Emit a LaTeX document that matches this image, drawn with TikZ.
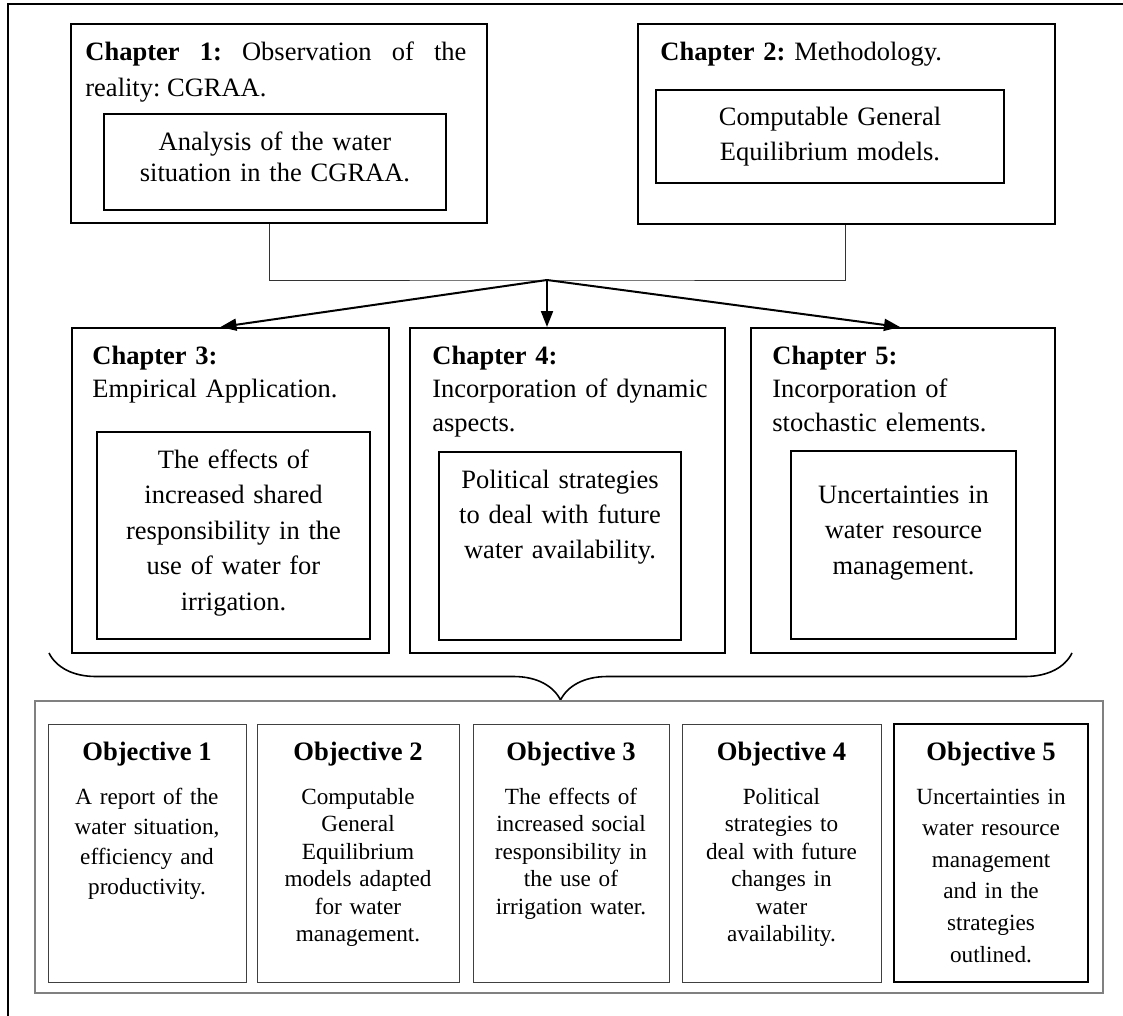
\documentclass[tikz,border=0pt]{standalone}
\usepackage{fontspec}
\setmainfont{Liberation Serif}
\usepackage{tikz}
\usetikzlibrary{arrows.meta, positioning, decorations.pathreplacing}
\frenchspacing

\begin{document}
\begin{tikzpicture}[x=0.5pt, y=-0.5pt,
    frame/.style={line width=1.15pt},
    chapbox/.style={draw, line width=1pt, inner sep=0pt},
    innerbox/.style={draw, line width=1pt, inner sep=0pt},
    chaptext/.style={inner sep=0pt, anchor=base west, text width=150pt, align=left,
      font=\fontsize{13.25}{16.75}\selectfont},
    bodytext/.style={inner sep=0pt, anchor=base, text width=165pt, align=center,
      font=\fontsize{13.25}{#1}\selectfont},
    bodytext/.default=17.75pt,
    objframe/.style={draw=gray, line width=0.6pt},
    objbox/.style={draw=black!75, line width=0.5pt, inner sep=0pt, minimum height=129pt},
    objtitle/.style={inner sep=0pt, anchor=base, font=\fontsize{13.3}{16}\selectfont\bfseries},
    objbody/.style={inner sep=0pt, anchor=base, text width=95pt, align=center,
      font=\fontsize{11.6}{#1}\selectfont},
    objbody/.default=13.75pt,
    link/.style={line width=0.5pt, black!80},
    flow/.style={line width=1pt, -{Triangle[length=8pt, width=6pt]}}]
  \useasboundingbox (0,0) rectangle (1123,1016);
  \clip (0,0) rectangle (1123,1016);
  \draw[frame] (8,4) rectangle (1150,1040);

  % top chapters
  \node[chapbox, minimum width=208pt, minimum height=99.5pt] (ch1) at (279,123.5) {};
  \node[chaptext, text width=190.5pt, align=justify, font=\fontsize{13.25}{18}\selectfont] (ch1t) at (85,61)
    {\textbf{Chapter 1:} Observation of the\linebreak reality: CGRAA.};
  \node[innerbox, minimum width=171pt, minimum height=48pt] (ch1in) at (275,162) {};
  \node[bodytext=15.5pt] (ch1tx) at (275,151) {Analysis of the water\\situation in the CGRAA.};

  \node[chapbox, minimum width=208.5pt, minimum height=100pt] (ch2) at (846.5,124) {};
  \node[chaptext, text width=190pt] (ch2t) at (660,61) {\textbf{Chapter 2:} Methodology.};
  \node[innerbox, minimum width=174pt, minimum height=46.5pt] (ch2in) at (830,136.5) {};
  \node[bodytext=17.5pt] (ch2tx) at (830,126) {Computable General\\Equilibrium models.};

  % middle chapters
  \node[chapbox, minimum width=158.5pt, minimum height=162.5pt] (ch3) at (230.5,490.5) {};
  \node[chaptext] (ch3t) at (92,364) {\textbf{Chapter 3:}\\Empirical Application.};
  \node[innerbox, minimum width=136.5pt, minimum height=103.5pt] (ch3in) at (233.5,535.5) {};
  \node[bodytext] (ch3tx) at (233.5,468)
    {The effects of\\increased shared\\responsibility in the\\use of water for\\irrigation.};

  \node[chapbox, minimum width=157.5pt, minimum height=162.5pt] (ch4) at (567.5,490.5) {};
  \node[chaptext] (ch4t) at (432,364) {\textbf{Chapter 4:}\\Incorporation of dynamic\\aspects.};
  \node[innerbox, minimum width=121pt, minimum height=94pt] (ch4in) at (560,546) {};
  \node[bodytext=17.5pt] (ch4tx) at (560,488)
    {Political strategies\\to deal with future\\water availability.};

  \node[chapbox, minimum width=152pt, minimum height=162.5pt] (ch5) at (903,490.5) {};
  \node[chaptext] (ch5t) at (772,364) {\textbf{Chapter 5:}\\Incorporation of\\stochastic elements.};
  \node[innerbox, minimum width=112.5pt, minimum height=94pt] (ch5in) at (903.5,545) {};
  \node[bodytext] (ch5tx) at (903.5,503) {Uncertainties in\\water resource\\management.};

  % connectors
  \coordinate (join) at (547,280);
  \draw[link] ([xshift=-5pt]ch1.south) |- (join) -| ([xshift=-0.75pt]ch2.south);
  \draw[flow] (join) -- ([xshift=-5pt]ch3.north);
  \draw[flow] (join) -- (join |- ch4.north);
  \draw[flow] (join) -- ([xshift=-1.5pt]ch5.north);

  % brace
  \coordinate (bl) at (49,653);
  \coordinate (br) at (1072,653);
  \draw[line width=0.8pt, decorate, decoration={brace, mirror, amplitude=23.5pt}] (bl) -- (br);

  % objectives
  \node[objframe, minimum width=534pt, minimum height=146pt] (objs) at (569,847) {};

  \node[objbox, minimum width=99pt] (o1) at (147,853) {};
  \node[objtitle] (o1t) at (147,760) {Objective 1};
  \node[objbody=15pt] (o1b) at (147,804) {A report of the\\water situation,\\efficiency and\\productivity.};

  \node[objbox, minimum width=101pt] (o2) at (358,853) {};
  \node[objtitle] (o2t) at (358,760) {Objective 2};
  \node[objbody] (o2b) at (358,804) {Computable\\General\\Equilibrium\\models adapted\\for water\\management.};

  \node[objbox, minimum width=98pt] (o3) at (571,853) {};
  \node[objtitle] (o3t) at (571,760) {Objective 3};
  \node[objbody] (o3b) at (571,804) {The effects of\\increased social\\responsibility in\\the use of\\irrigation water.};

  \node[objbox, minimum width=99.5pt] (o4) at (781.5,853) {};
  \node[objtitle] (o4t) at (781.5,760) {Objective 4};
  \node[objbody] (o4b) at (781.5,804) {Political\\strategies to\\deal with future\\changes in\\water\\availability.};

  \node[objbox, draw=black, line width=1pt, minimum width=97pt] (o5) at (991,853) {};
  \node[objtitle] (o5t) at (991,760) {Objective 5};
  \node[objbody=15.8pt] (o5b) at (991,804) {Uncertainties in\\water resource\\management\\and in the\\strategies\\outlined.};
\end{tikzpicture}
\end{document}
